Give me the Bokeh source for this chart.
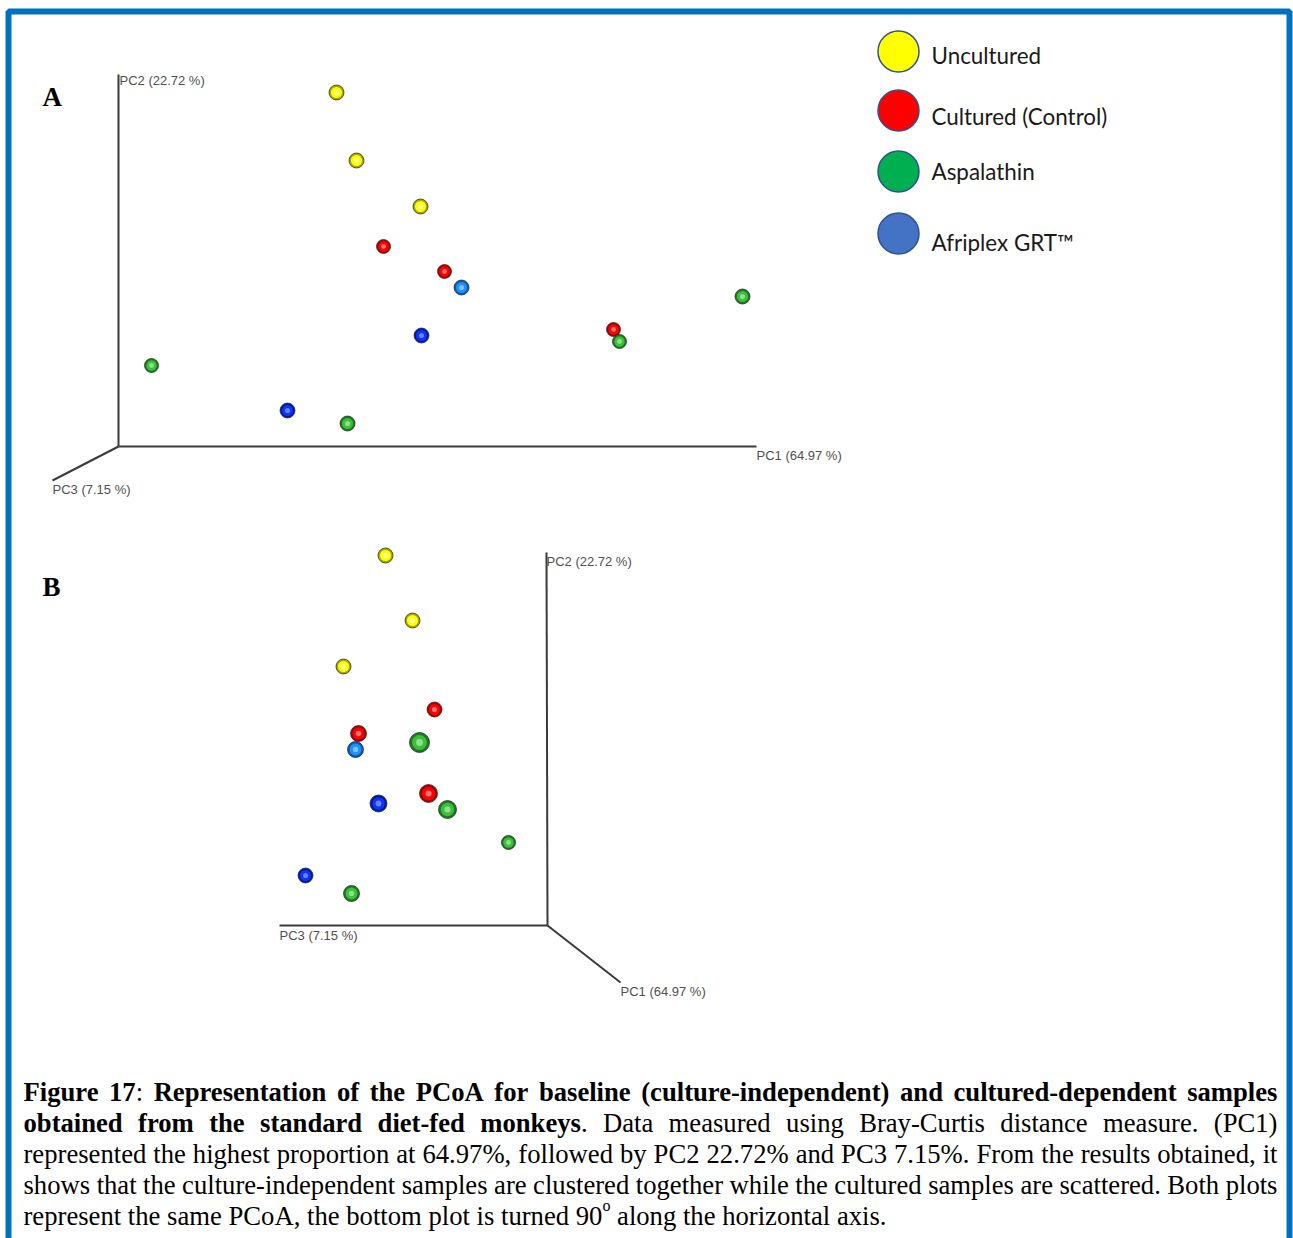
import glob
import os
from bokeh.plotting import figure
from bokeh.models import Range1d, ColumnDataSource
from bokeh.core.properties import value
from bokeh.embed import file_html
from bokeh.resources import INLINE

# ---------------- data (projected PCoA coordinates, screen units from each panel's axis origin;
# x = right, y = up) -----------------
GROUPS = ["Uncultured", "Cultured (Control)", "Aspalathin", "Afriplex GRT™"]

# Panel A (PC1 horizontal, PC2 vertical, PC3 receding)
A_unc_x = [218, 238, 302]
A_unc_y = [354, 286, 240]
A_cul_x = [265, 326, 495]
A_cul_y = [200, 175, 117]
A_asp_x = [33, 229, 624, 501]
A_asp_y = [81, 23, 150, 105]
A_afr_x = [343, 303, 169]
A_afr_y = [159, 111, 36]

# Panel B (same PCoA turned 90 degrees along the horizontal axis)
B_unc_x = [-162, -135, -204]
B_unc_y = [370, 305, 259]
B_cul_x = [-113, -189, -119]
B_cul_y = [216, 192, 132]
B_asp_x = [-128, -100, -39, -196]
B_asp_y = [183, 116, 83, 32]
B_afr_x = [-192, -169, -242]
B_afr_y = [176, 122, 50]

AXIS_LABELS = ["PC1 (64.97 %)", "PC2 (22.72 %)", "PC3 (7.15 %)"]

CAPTION = [
    [[("Figure", 1)], [("17", 1), (":", 0)], [("Representation", 1)], [("of", 1)], [("the", 1)],
     [("PCoA", 1)], [("for", 1)], [("baseline", 1)], [("(culture-independent)", 1)], [("and", 1)],
     [("cultured-dependent", 1)], [("samples", 1)]],
    [[("obtained", 1)], [("from", 1)], [("the", 1)], [("standard", 1)], [("diet-fed", 1)],
     [("monkeys", 1), (".", 0)]] + [[(w, 0)] for w in
                                     "Data measured using Bray-Curtis distance measure. (PC1)".split()],
    [[(w, 0)] for w in
     "represented the highest proportion at 64.97%, followed by PC2 22.72% and PC3 7.15%. From the results obtained, it".split()],
    [[(w, 0)] for w in
     "shows that the culture-independent samples are clustered together while the cultured samples are scattered. Both plots".split()],
    [[(w, 0)] for w in "represent the same PCoA, the bottom plot is turned".split()]
    + [[("90", 0), ("o", 2)]]
    + [[(w, 0)] for w in "along the horizontal axis.".split()],
]

# ---------------- styles / layout -----------------
W, H = 1293, 1238
ORIGIN_A = (118, 446)
ORIGIN_B = (547, 925)

SIZES_A = {"unc": [15, 15, 15], "cul": [14, 14, 14], "asp": [14, 15, 15, 14], "afr": [15, 15, 15]}
SIZES_B = {"unc": [15, 15, 15], "cul": [15, 16, 18], "asp": [20, 18, 14, 16], "afr": [16, 17, 15]}

SPH = {
    "unc": ("#ffff00", "#a8a800", "#ffffb8"),
    "cul": ("#ff0000", "#a80000", "#ff8a8a"),
    "asp": ("#3cbf3c", "#1b7a1b", "#9ae89a"),
    "afr": ("#0d33ff", "#001a9c", "#7890ff"),
    "afr_light": ("#1e90ff", "#0b5aa8", "#8ccaff"),
}

p = figure(width=W, height=H, x_range=Range1d(0, W), y_range=Range1d(H, 0),
           output_backend="svg", toolbar_location=None, min_border=0,
           x_axis_location=None, y_axis_location=None)
p.grid.visible = False
p.outline_line_color = None
p.background_fill_color = "white"
p.border_fill_color = "white"

# frame
p.quad(left=[8], right=[1289], top=[11], bottom=[1260], fill_color=None,
       line_color="#0070c0", line_width=6)


def spheres(xs, ys, sizes, key):
    base, dark, light = SPH[key]
    p.scatter(xs, ys, size=sizes, fill_color=dark, line_color="#2a2a2a", line_width=1, line_alpha=0.75)
    p.scatter(xs, ys, size=[s * 0.74 for s in sizes], fill_color=base, line_color=None)
    p.scatter(xs, ys, size=[s * 0.34 for s in sizes], fill_color=light, line_color=None, fill_alpha=0.85)


def panel(origin, data, sizes):
    ox, oy = origin
    for key, (xs, ys) in data.items():
        px = [ox + v for v in xs]
        py = [oy - v for v in ys]
        sz = sizes[key]
        if key == "afr":
            spheres(px[:1], py[:1], sz[:1], "afr_light")
            spheres(px[1:], py[1:], sz[1:], "afr")
        else:
            spheres(px, py, sz, key)


AXC = "#3a3a3a"
LBL_FONT = value("Liberation Sans")
LBL_COLOR = "#505050"

# Panel A axes
ax, ay = ORIGIN_A
p.segment(x0=[ax, ax, ax], y0=[ay, ay, ay], x1=[ax, ax + 638, ax - 66], y1=[ay - 372, ay, ay + 34],
          line_color=AXC, line_width=2)
p.text(x=[ax + 1, ax + 638, ax - 66], y=[ay - 366, ay + 9, ay + 43],
       text=[AXIS_LABELS[1], AXIS_LABELS[0], AXIS_LABELS[2]], text_font=LBL_FONT,
       text_font_size="13px", text_color=LBL_COLOR, text_baseline="middle", text_align="left")

# Panel B axes
bx, by = ORIGIN_B
p.segment(x0=[bx, bx, bx], y0=[by, by, by], x1=[bx - 1, bx - 268, bx + 73], y1=[by - 373, by, by + 57],
          line_color=AXC, line_width=2)
p.text(x=[bx - 1, bx - 268, bx + 73], y=[by - 364, by + 10, by + 66],
       text=[AXIS_LABELS[1], AXIS_LABELS[2], AXIS_LABELS[0]], text_font=LBL_FONT,
       text_font_size="13px", text_color=LBL_COLOR, text_baseline="middle", text_align="left")

panel(ORIGIN_A, {"unc": (A_unc_x, A_unc_y), "cul": (A_cul_x, A_cul_y),
                 "asp": (A_asp_x, A_asp_y), "afr": (A_afr_x, A_afr_y)}, SIZES_A)
panel(ORIGIN_B, {"unc": (B_unc_x, B_unc_y), "cul": (B_cul_x, B_cul_y),
                 "asp": (B_asp_x, B_asp_y), "afr": (B_afr_x, B_afr_y)}, SIZES_B)

# panel letters
p.text(x=[42, 42], y=[96, 586], text=["A", "B"], text_font=value("Liberation Serif"),
       text_font_style="bold", text_font_size="27px", text_color="black", text_baseline="middle")


# ---------------- font measuring helpers -----------------
def find_font(name):
    for d in ["/usr/share/fonts", "/usr/local/share/fonts", os.path.expanduser("~/.fonts"),
              os.path.expanduser("~/.local/share/fonts")]:
        hits = glob.glob(os.path.join(d, "**", name), recursive=True)
        if hits:
            return hits[0]
    return None


def load(name):
    try:
        from PIL import ImageFont
        f = find_font(name)
        if f:
            return ImageFont.truetype(f, 100)
    except Exception:
        pass
    return None


F_REG = load("LiberationSerif-Regular.ttf")
F_BOLD = load("LiberationSerif-Bold.ttf")
F_LATO = load("Lato-Regular.ttf")


def tw(text, bold, size):
    f = F_BOLD if bold == 1 else F_REG
    if f is not None:
        return f.getlength(text) * size / 100.0
    return len(text) * size * (0.5 if bold == 1 else 0.45)


# legend
LEG_COLORS = ["#ffff00", "#ff0000", "#00b050", "#4472c4"]
LEG_Y = [51, 110, 171, 233]
TXT_Y = [55, 116, 171, 242]
p.scatter(x=[898] * 4, y=LEG_Y, size=41, fill_color=LEG_COLORS, line_color="#2f528f", line_width=1.5)
leg_size = 21.0
if F_LATO is not None:
    leg_size = 100.0 * 176 / F_LATO.getlength(GROUPS[1])
p.text(x=[931] * 4, y=TXT_Y, text=GROUPS, text_font=value("Lato"), text_font_size=f"{leg_size:.1f}px",
       text_color="#1a1a1a", text_baseline="middle", text_align="left")

# caption
L, R = 23, 1277
BASE = [1091, 1122, 1153, 1184, 1215]
last_natural = sum(tw(s, b, 100) for word in CAPTION[4] for s, b in word if b != 2) \
    + tw(" ", 0, 100) * (len(CAPTION[4]) - 1) + tw("o", 0, 60)
cs = 100.0 * (886 - L) / last_natural

out = {0: ([], [], []), 1: ([], [], []), 2: ([], [], [])}
for i, line in enumerate(CAPTION):
    widths = [sum(tw(s, b if b != 2 else 0, cs * (0.6 if b == 2 else 1)) for s, b in word) for word in line]
    if i < 4:
        gap = (R - L - sum(widths)) / (len(line) - 1)
    else:
        gap = tw(" ", 0, cs)
    x = L
    for word in line:
        for s, b in word:
            if b == 2:
                out[2][0].append(x)
                out[2][1].append(BASE[i] - cs * 0.38)
                out[2][2].append(s)
                x += tw(s, 0, cs * 0.6)
            else:
                out[b][0].append(x)
                out[b][1].append(BASE[i])
                out[b][2].append(s)
                x += tw(s, b, cs)
        x += gap

for b, style, scale in [(0, "normal", 1.0), (1, "bold", 1.0), (2, "normal", 0.6)]:
    xs, ys, ts = out[b]
    src = ColumnDataSource(dict(x=xs, y=ys, text=ts))
    p.text(x="x", y="y", text="text", source=src, text_font=value("Liberation Serif"),
           text_font_style=style, text_font_size=f"{cs * scale:.2f}px", text_color="black",
           text_baseline="alphabetic", text_align="left")

open("out.html", "w").write(file_html(p, INLINE))
